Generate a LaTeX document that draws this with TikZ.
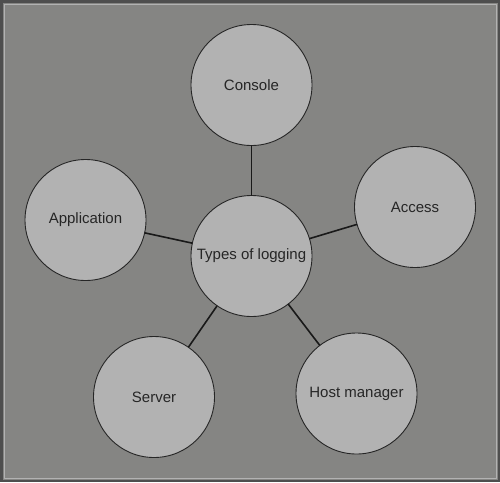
\documentclass[tikz,border=0pt]{standalone}
\usepackage{fontspec}
\setmainfont{Liberation Sans}

\definecolor{bggray}{RGB}{133,133,131}
\definecolor{circgray}{RGB}{178,178,178}
\definecolor{framegray}{RGB}{78,78,78}

\begin{document}
\begin{tikzpicture}[line cap=round,line join=round,x=1pt,y=-1pt,
    topic/.style={circle,draw=black!85,fill=circgray,line width=0.9pt,
      minimum size=121pt,inner sep=0pt,text=black!85,
      font=\fontsize{15}{18}\selectfont},
    spoke/.style={line width=1.6pt,color=black!90}]
  \useasboundingbox (0,0) rectangle (500,482);
  \fill[framegray] (0,0) rectangle (500,482);
  \fill[bggray] (2.5,2.5) rectangle (497.5,479.5);
  \draw[gray!60!white,line width=0.4pt] (4,4) rectangle (496,478);

  \node[topic] (types) at (251.5,256) {Types of logging};
  \node[topic] (console) at (251.5,85) {Console};
  \node[topic] (access) at (415,207) {Access};
  \node[topic] (app) at (85.5,220) {Application};
  \node[topic] (server) at (154,397) {Server};
  \node[topic] (host) at (356.5,393.5) {Host manager};

  \foreach \t in {console,access,app,server,host}{
    \draw[spoke] (types) -- (\t);
  }
\end{tikzpicture}
\end{document}
